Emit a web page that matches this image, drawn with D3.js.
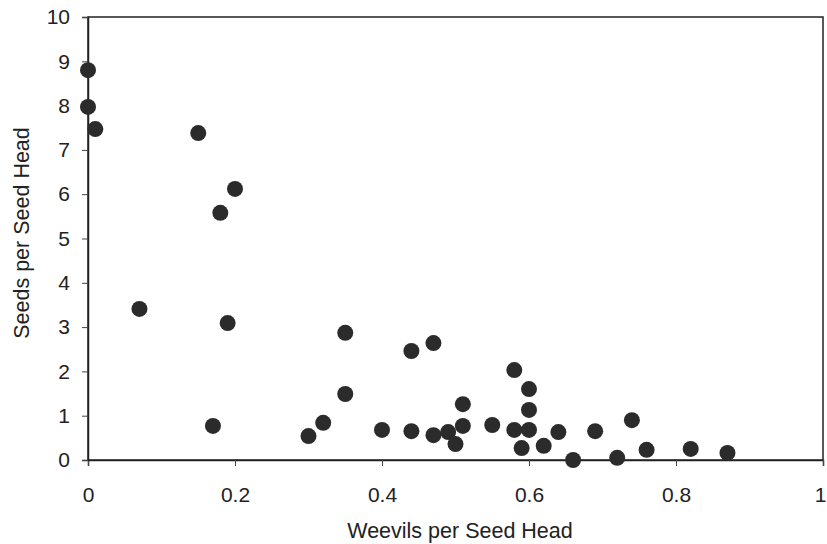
<!DOCTYPE html>
<html>
<head>
<meta charset="utf-8">
<script src="https://cdn.jsdelivr.net/npm/d3@7"></script>
<style>
  body { margin: 0; background: #fff; }
  text { font-family: "Liberation Sans", Arial, sans-serif; fill: #222; }
</style>
</head>
<body>
<div id="viscontainer"></div>
<script>
// weevils per seed head vs seeds per seed head
const weevils = [0, 0, 0.01, 0.15, 0.20, 0.18, 0.07, 0.19, 0.17, 0.30, 0.32, 0.35, 0.35,
  0.40, 0.44, 0.44, 0.47, 0.47, 0.49, 0.50, 0.51, 0.51, 0.55, 0.58, 0.58, 0.59,
  0.60, 0.60, 0.60, 0.62, 0.64, 0.66, 0.69, 0.72, 0.74, 0.76, 0.82, 0.87];
const seeds = [8.80, 7.97, 7.47, 7.38, 6.12, 5.58, 3.41, 3.09, 0.77, 0.54, 0.84, 2.87, 1.49,
  0.68, 0.65, 2.46, 0.56, 2.64, 0.63, 0.36, 1.26, 0.77, 0.79, 2.03, 0.68, 0.27,
  1.60, 1.13, 0.68, 0.32, 0.63, 0.00, 0.65, 0.05, 0.90, 0.23, 0.25, 0.16];
const xTicks = [0, 0.2, 0.4, 0.6, 0.8, 1];
const yTicks = [0, 1, 2, 3, 4, 5, 6, 7, 8, 9, 10];

const width = 827;
const height = 544;
const marginTop = 17;
const marginRight = 3;
const marginBottom = 84;
const marginLeft = 88;

const svg = d3.create("svg").attr("width", width).attr("height", height);
d3.select("#viscontainer").append(() => svg.node());

const xScale = d3.scaleLinear().domain([0, 1]).range([marginLeft, width - marginRight - 1]);
const yScale = d3.scaleLinear().domain([0, 10]).range([height - marginBottom, marginTop]);

// box round the plot
svg.append("rect")
  .attr("x", xScale(0)).attr("y", yScale(10))
  .attr("width", xScale(1) - xScale(0)).attr("height", yScale(0) - yScale(10))
  .attr("fill", "none").attr("stroke", "#222").attr("stroke-width", 1.5);

const xAxis = svg.append("g")
  .attr("transform", `translate(0, ${yScale(0)})`)
  .call(d3.axisBottom(xScale).tickValues(xTicks).tickSize(6).tickPadding(21)
    .tickFormat(d3.format("")));
const yAxis = svg.append("g")
  .attr("transform", `translate(${xScale(0)}, 0)`)
  .call(d3.axisLeft(yScale).tickValues(yTicks).tickSize(6).tickPadding(12));

[xAxis, yAxis].forEach((g) => {
  g.select(".domain").attr("stroke", "#222").attr("stroke-width", 1.5);
  g.selectAll(".tick line").attr("stroke", "#444");
  g.selectAll(".tick text").attr("font-size", 21).attr("fill", "#222")
    .attr("font-family", "Liberation Sans, Arial, sans-serif");
});
// last label sits at the right edge: keep it inside the picture
xAxis.selectAll(".tick text").filter((d) => d === 1)
  .attr("text-anchor", "end").attr("dx", 3);

svg.selectAll("circle")
  .data(weevils.map((w, i) => ({ w, s: seeds[i] })))
  .join("circle")
  .attr("cx", (d) => xScale(d.w))
  .attr("cy", (d) => yScale(d.s))
  .attr("r", 8)
  .attr("fill", "#2b2b2b");

svg.append("text")
  .attr("x", 460)
  .attr("y", 538)
  .attr("text-anchor", "middle")
  .attr("font-size", 21.5)
  .text("Weevils per Seed Head");

svg.append("text")
  .attr("transform", `translate(29, 233) rotate(-90)`)
  .attr("text-anchor", "middle")
  .attr("font-size", 21.5)
  .text("Seeds per Seed Head");
</script>
</body>
</html>
